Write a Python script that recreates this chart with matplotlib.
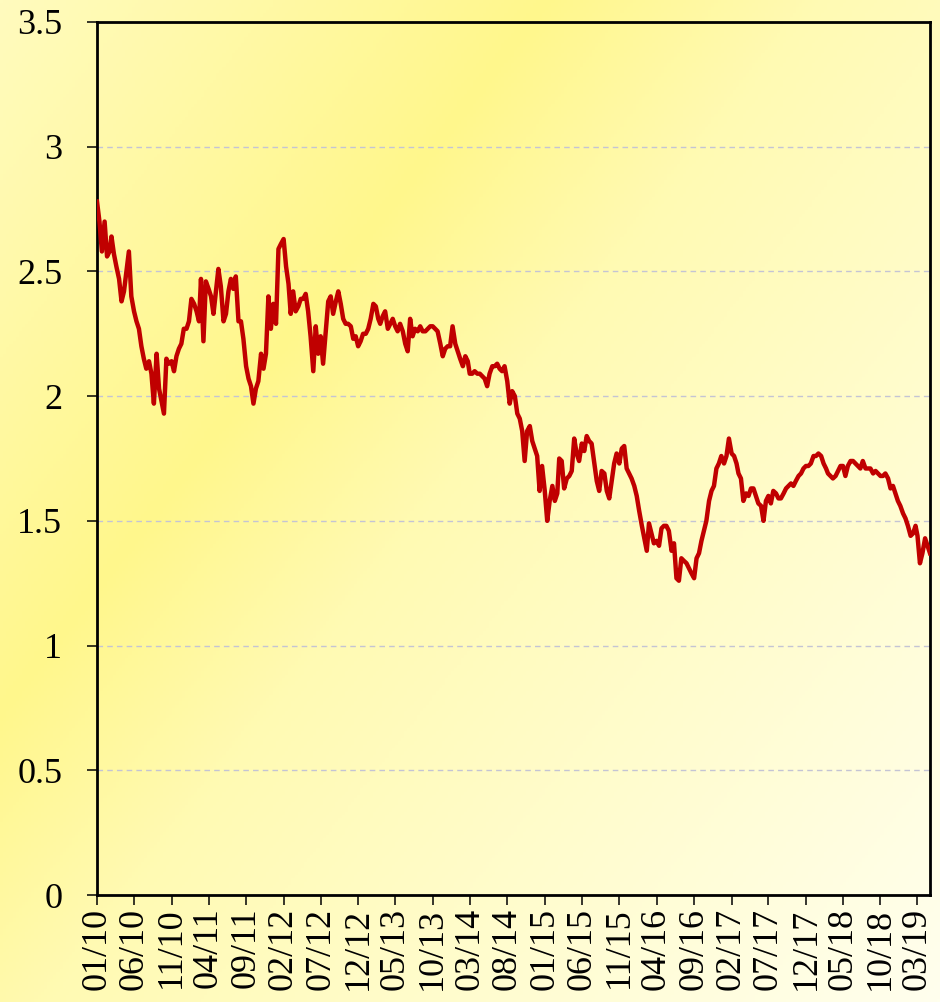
import numpy as np
import pandas as pd
import matplotlib
matplotlib.use("Agg")
import matplotlib.pyplot as plt
import matplotlib.dates as mdates
from matplotlib.ticker import FuncFormatter

plt.rcParams["font.family"] = ["Liberation Serif", "DejaVu Serif"]

# ---- data: three readings per month (1st, 11th, 21st) ----
start_month = "2010-01-01"
end_month = "2019-04-01"
day_offsets = [0, 10, 20]

values = [
    # 2010
    2.78, 2.70, 2.58,  2.70, 2.56, 2.58,  2.64, 2.57, 2.52,  2.47, 2.38, 2.42,
    2.50, 2.58, 2.40,  2.34, 2.30, 2.27,  2.20, 2.15, 2.11,  2.14, 2.09, 1.97,
    2.17, 2.03, 1.98,  1.93, 2.15, 2.13,  2.14, 2.10, 2.16,  2.19, 2.21, 2.27,
    # 2011
    2.27, 2.30, 2.39,  2.37, 2.34, 2.30,  2.47, 2.22, 2.46,  2.43, 2.40, 2.33,
    2.42, 2.51, 2.44,  2.30, 2.33, 2.42,  2.47, 2.43, 2.48,  2.30, 2.30, 2.23,
    2.12, 2.07, 2.04,  1.97, 2.03, 2.06,  2.17, 2.11, 2.17,  2.40, 2.27, 2.37,
    # 2012
    2.29, 2.59, 2.61,  2.63, 2.52, 2.45,  2.33, 2.42, 2.34,  2.36, 2.39, 2.39,
    2.41, 2.34, 2.24,  2.10, 2.28, 2.17,  2.24, 2.13, 2.25,  2.38, 2.40, 2.33,
    2.38, 2.42, 2.37,  2.31, 2.29, 2.29,  2.28, 2.23, 2.24,  2.20, 2.22, 2.25,
    # 2013
    2.25, 2.27, 2.31,  2.37, 2.36, 2.31,  2.29, 2.32, 2.34,  2.27, 2.29, 2.31,
    2.28, 2.26, 2.29,  2.26, 2.21, 2.18,  2.31, 2.24, 2.27,  2.26, 2.28, 2.26,
    2.26, 2.27, 2.28,  2.28, 2.27, 2.26,  2.21, 2.16, 2.19,  2.20, 2.20, 2.28,
    # 2014
    2.21, 2.18, 2.15,  2.12, 2.16, 2.14,  2.09, 2.09, 2.10,  2.09, 2.09, 2.08,
    2.07, 2.04, 2.09,  2.12, 2.12, 2.13,  2.11, 2.10, 2.12,  2.06, 1.97, 2.02,
    2.00, 1.93, 1.91,  1.86, 1.74, 1.86,  1.88, 1.82, 1.79,  1.76, 1.62, 1.72,
    # 2015
    1.62, 1.50, 1.58,  1.64, 1.58, 1.61,  1.75, 1.74, 1.63,  1.67, 1.68, 1.70,
    1.83, 1.77, 1.74,  1.81, 1.78, 1.84,  1.82, 1.81, 1.74,  1.66, 1.62, 1.70,
    1.69, 1.62, 1.59,  1.66, 1.73, 1.77,  1.73, 1.79, 1.80,  1.71, 1.69, 1.67,
    # 2016
    1.64, 1.60, 1.54,  1.48, 1.43, 1.38,  1.49, 1.45, 1.41,  1.42, 1.40, 1.47,
    1.48, 1.48, 1.46,  1.38, 1.41, 1.27,  1.26, 1.35, 1.34,  1.33, 1.31, 1.29,
    1.27, 1.35, 1.37,  1.42, 1.46, 1.50,  1.58, 1.62, 1.64,  1.71, 1.73, 1.76,
    # 2017
    1.73, 1.76, 1.83,  1.77, 1.76, 1.73,  1.69, 1.67, 1.58,  1.61, 1.60, 1.63,
    1.63, 1.60, 1.57,  1.56, 1.50, 1.58,  1.60, 1.57, 1.62,  1.61, 1.59, 1.59,
    1.61, 1.63, 1.64,  1.65, 1.64, 1.66,  1.68, 1.69, 1.71,  1.72, 1.72, 1.73,
    # 2018
    1.76, 1.76, 1.77,  1.76, 1.73, 1.71,  1.69, 1.68, 1.67,  1.68, 1.70, 1.72,
    1.72, 1.68, 1.72,  1.74, 1.74, 1.73,  1.72, 1.71, 1.74,  1.71, 1.71, 1.71,
    1.69, 1.70, 1.69,  1.68, 1.68, 1.69,  1.67, 1.63, 1.64,  1.61, 1.58, 1.56,
    # 2019
    1.53, 1.51, 1.48,  1.44, 1.45, 1.48,  1.44, 1.33, 1.37,  1.43, 1.40, 1.37,
]

y_ticks = [0, 0.5, 1, 1.5, 2, 2.5, 3, 3.5]
tick_month_step = 5

months = pd.date_range(start_month, end_month, freq="MS")
dates = [m + pd.Timedelta(days=d) for m in months for d in day_offsets]
dates = dates[:len(values)]

# ---- figure ----
W, H = 940, 1002
fig = plt.figure(figsize=(W / 100, H / 100), dpi=100)

# background diagonal gradient
bg = fig.add_axes([0, 0, 1, 1], zorder=0)
bg.set_axis_off()
gx, gy = np.meshgrid(np.linspace(0, 1, 300), np.linspace(0, 1, 300))
t = gx * 0.55 + gy * 0.45
c_pale = np.array([255, 251, 190]) / 255
c_sat = np.array([255, 247, 140]) / 255
c_white = np.array([255, 255, 238]) / 255
c_mid = c_sat * 0.6 + c_white * 0.4
img = np.zeros(gx.shape + (3,))
for k in range(3):
    img[..., k] = np.interp(t, [0.0, 0.32, 0.48, 1.0],
                            [c_pale[k], c_sat[k], c_mid[k], c_white[k]])
bg.imshow(img, extent=[0, 1, 0, 1], aspect="auto", origin="upper")
bg.set_xlim(0, 1)
bg.set_ylim(0, 1)

ax = fig.add_axes([97 / W, 1 - 895 / H, (930 - 97) / W, (895 - 22) / H], zorder=1)
ax.set_facecolor("none")

ax.plot(dates, values, color="#C00000", linewidth=3.2, solid_joinstyle="round", zorder=3)

ax.set_ylim(0, 3.5)
ax.set_xlim(dates[0], dates[-1])
ax.set_yticks(y_ticks)
ax.yaxis.set_major_formatter(FuncFormatter(lambda v, p: f"{v:g}"))
ax.grid(axis="y", linestyle=(0, (4, 3)), color="#C4C4D4", linewidth=1.0)
ax.set_axisbelow(True)

xt = pd.date_range(start_month, end_month, freq=f"{tick_month_step}MS")
ax.set_xticks(xt)
ax.xaxis.set_major_formatter(mdates.DateFormatter("%m/%y"))

for s in ax.spines.values():
    s.set_color("black")
    s.set_linewidth(2.0)

ax.tick_params(axis="both", direction="out", length=7, width=1.1, color="black",
               labelsize=26)
for lab in ax.get_xticklabels():
    lab.set_rotation(90)
ax.tick_params(axis="x", pad=2)
ax.tick_params(axis="y", pad=18)

fig.savefig("out.png", dpi=100)
